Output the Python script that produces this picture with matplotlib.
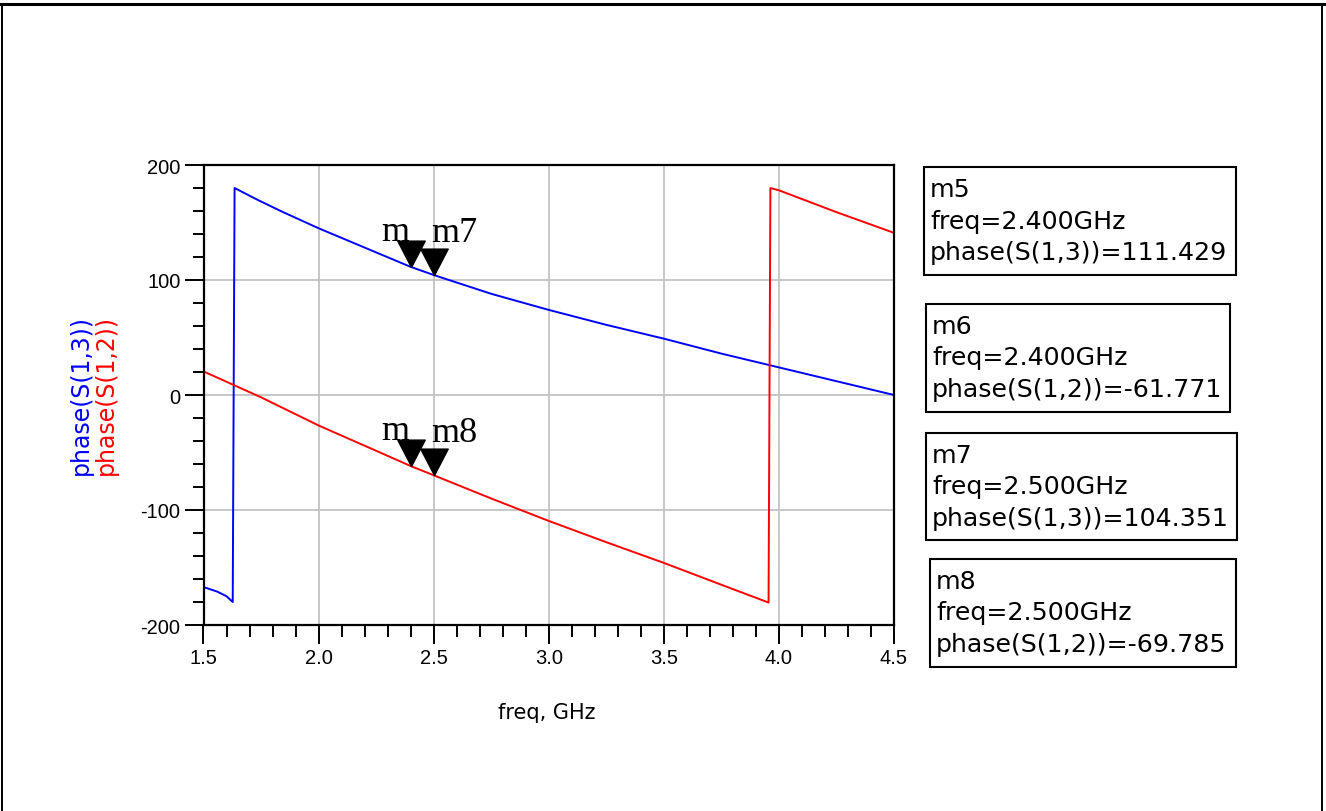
"""ADS-style phase plot of S(1,3) and S(1,2) with marker readouts."""

import matplotlib
matplotlib.use("Agg")
import matplotlib.pyplot as plt
from matplotlib.lines import Line2D
from matplotlib.patches import Rectangle
from matplotlib.path import Path
from matplotlib.ticker import MultipleLocator
from matplotlib.transforms import Bbox, TransformedBbox

# phase(S(1,3)), degrees, wraps at ~1.63 GHz
freq_s13 = [1.50, 1.56, 1.60, 1.627, 1.631, 1.635, 1.737, 1.846, 2.00, 2.25,
            2.40, 2.50, 2.75, 3.00, 3.25, 3.50, 3.75, 4.00, 4.25, 4.50]
phase_s13 = [-167, -171, -175, -180, 0, 180, 169.5, 159, 145, 124,
             111.429, 104.351, 88, 74, 61, 49, 36, 24, 12, 0]

# phase(S(1,2)), degrees, wraps at ~3.96 GHz
freq_s12 = [1.50, 1.75, 2.00, 2.25, 2.40, 2.50, 2.75, 3.00, 3.25,
            3.50, 3.75, 3.955, 3.959, 3.963, 4.00, 4.25, 4.50]
phase_s12 = [20.5, -2, -26.5, -48.5, -61.771, -69.785, -90, -109.5, -128,
             -146, -165, -180.5, 0, 180, 178, 159, 141]

# markers: name, freq (GHz), phase (deg), trace
marker_names = ["m5", "m6", "m7", "m8"]
marker_freqs = [2.4, 2.4, 2.5, 2.5]
marker_phases = [111.429, -61.771, 104.351, -69.785]
marker_traces = ["S(1,3)", "S(1,2)", "S(1,3)", "S(1,2)"]

BLUE = "#0000ff"
RED = "#ff0000"

W, H = 1326, 812
fig = plt.figure(figsize=(W / 100, H / 100), dpi=100)


def fx(px):
    return px / W


def fy(py):
    return 1 - py / H


ax = fig.add_axes([fx(203.5), fy(626), fx(894) - fx(203.5), fy(166) - fy(626)])

ax.plot(freq_s13, phase_s13, color=BLUE, lw=1.4, zorder=3)
ax.plot(freq_s12, phase_s12, color=RED, lw=1.4, zorder=3)

ax.set_xlim(1.5, 4.5)
ax.set_ylim(-200, 200)
ax.xaxis.set_major_locator(MultipleLocator(0.5))
ax.xaxis.set_minor_locator(MultipleLocator(0.1))
ax.yaxis.set_major_locator(MultipleLocator(100))
ax.yaxis.set_minor_locator(MultipleLocator(20))
ax.xaxis.set_major_formatter(lambda v, pos: f"{v:.1f}")
ax.yaxis.set_major_formatter(lambda v, pos: f"{v:.0f}")
ax.grid(True, which="major", color="#c4c4c4", lw=1.3, zorder=0)

for sp in ax.spines.values():
    sp.set_linewidth(1.6)
    sp.set_zorder(4)
ax.tick_params(which="major", direction="out", length=13.5, width=1.4, pad=3,
               labelsize=14.5, labelfontfamily="Liberation Sans")
ax.tick_params(axis="x", which="minor", direction="out", length=8.5, width=1.4)
ax.tick_params(axis="y", which="minor", direction="out", length=7.7, width=1.4)

# triangle marker with its tip on the data point
tri = Path([(0, 0), (-0.52, 1), (0.52, 1), (0, 0)],
           [Path.MOVETO, Path.LINETO, Path.LINETO, Path.CLOSEPOLY])
ax.plot(marker_freqs, marker_phases, ls="none", marker=tri, ms=38,
        color="black", zorder=6, clip_on=False)

# marker labels (the m5/m6 digit is hidden behind the neighbouring marker)
label_offsets = {"m5": (-29, 27), "m6": (-29, 27), "m7": (-2.5, 34), "m8": (-2.5, 34)}
for name, f, p in zip(marker_names, marker_freqs, marker_phases):
    dx, dy = label_offsets[name]
    t = ax.annotate(name, (f, p), xytext=(dx, dy), textcoords="offset pixels",
                    fontfamily="Liberation Serif", fontsize=26, ha="left",
                    va="baseline", zorder=5, annotation_clip=False)
    if name in ("m5", "m6"):
        t.set_clip_on(True)
        t.set_clip_box(TransformedBbox(Bbox([[1.5, -200], [2.391, 200]]),
                                       ax.transData))

# y label: two stacked trace names
fig.text(fx(81), fy(395), "phase(S(1,3))", rotation=90, color=BLUE,
         fontsize=17, ha="center", va="center")
fig.text(fx(106), fy(395), "phase(S(1,2))", rotation=90, color=RED,
         fontsize=17, ha="center", va="center")
fig.text(fx(547), fy(713), "freq, GHz", fontsize=15, ha="center", va="center")

# marker readout boxes (pixel extents: left, top, right, bottom)
boxes = [(924, 168, 1236, 276), (926, 305, 1230, 413),
         (926, 434, 1237, 541), (930, 560, 1236, 668)]
for name, f, p, trace, (x0, y0, x1, y1) in zip(marker_names, marker_freqs,
                                               marker_phases, marker_traces, boxes):
    fig.add_artist(Rectangle((fx(x0), fy(y1)), fx(x1) - fx(x0), fy(y0) - fy(y1),
                             transform=fig.transFigure, fc="white", ec="black",
                             lw=1.5))
    lines = [name, f"freq={f:.3f}GHz", f"phase({trace})={p:.3f}"]
    for i, line in enumerate(lines):
        fig.text(fx(x0 + 6), fy(y0 + 29 + 31.5 * i), line, fontsize=18.2,
                 ha="left", va="baseline")

# outer frame
fig.add_artist(Line2D([0, 1], [fy(5), fy(5)], color="black", lw=2.2))
fig.add_artist(Line2D([fx(2), fx(2)], [0, fy(5)], color="black", lw=1.4))
fig.add_artist(Line2D([fx(1322), fx(1322)], [0, fy(5)], color="black", lw=1.4))

fig.savefig("out.png", dpi=100)
